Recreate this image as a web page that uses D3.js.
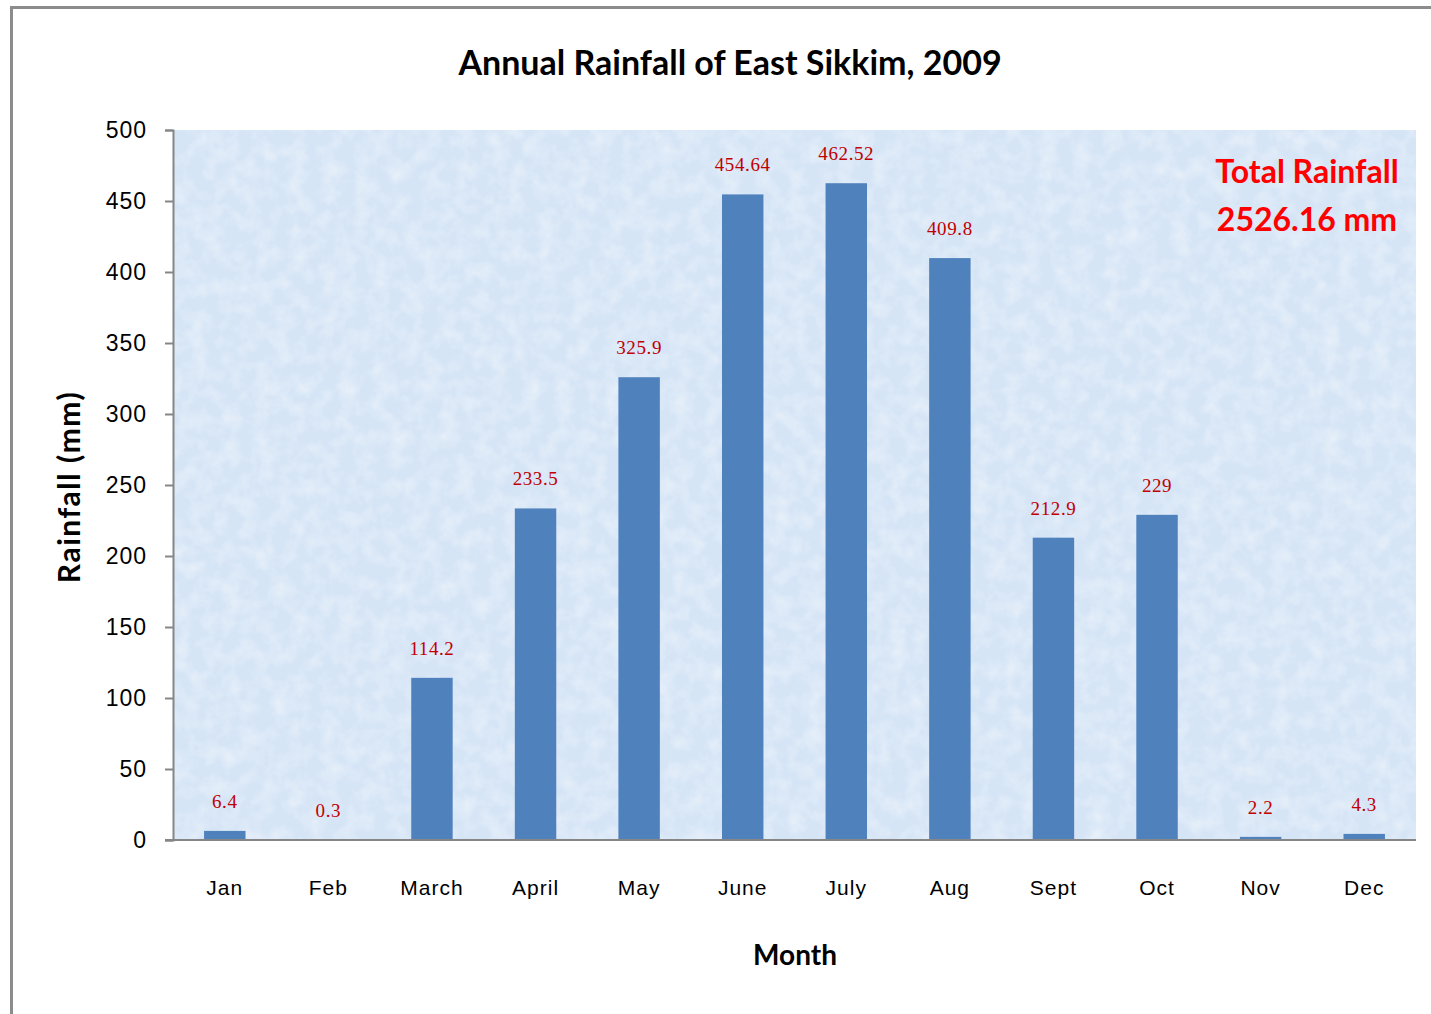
<!DOCTYPE html>
<html>
<head>
<meta charset="utf-8">
<script src="https://cdn.jsdelivr.net/npm/d3@7"></script>
<style>
  body { margin: 0; background: #fff; }
  svg { display: block; }
</style>
</head>
<body>
<div id="chart"></div>
<script>
// Monthly rainfall, East Sikkim 2009 (mm)
const months = ['Jan', 'Feb', 'March', 'April', 'May', 'June', 'July', 'Aug', 'Sept', 'Oct', 'Nov', 'Dec'];
const rainfall = [6.4, 0.3, 114.2, 233.5, 325.9, 454.64, 462.52, 409.8, 212.9, 229, 2.2, 4.3];
const rainLabels = ['6.4', '0.3', '114.2', '233.5', '325.9', '454.64', '462.52', '409.8', '212.9', '229', '2.2', '4.3'];
const yTicks = [0, 50, 100, 150, 200, 250, 300, 350, 400, 450, 500];
const totalLines = ['Total Rainfall', '2526.16 mm'];

const W = 1431, H = 1014;
const margin = { top: 130, right: 15, bottom: 174, left: 173 };
const width = W - margin.left - margin.right;
const height = H - margin.top - margin.bottom;

const svg = d3.select('#chart').append('svg')
    .attr('width', W)
    .attr('height', H);

// texture for the plot background
const defs = svg.append('defs');
const filt = defs.append('filter').attr('id', 'paper')
    .attr('x', 0).attr('y', 0).attr('width', '100%').attr('height', '100%');
filt.append('feTurbulence')
    .attr('type', 'fractalNoise')
    .attr('baseFrequency', 0.06)
    .attr('numOctaves', 3)
    .attr('seed', 4);
filt.append('feColorMatrix')
    .attr('type', 'matrix')
    .attr('values', '0 0 0 0 1  0 0 0 0 1  0 0 0 0 1  0 0 0 1.4 -0.55');

// outer frame
svg.append('rect')
    .attr('x', 11.5).attr('y', 7.5)
    .attr('width', W + 20).attr('height', H + 20)
    .attr('fill', 'none')
    .attr('stroke', '#8c8c8c')
    .attr('stroke-width', 3);

const g = svg.append('g')
    .attr('transform', `translate(${margin.left},${margin.top})`);

g.append('rect')
    .attr('width', width).attr('height', height)
    .attr('fill', '#d6e5f6');
g.append('rect')
    .attr('width', width).attr('height', height)
    .attr('filter', 'url(#paper)')
    .attr('opacity', 0.55);

const x = d3.scaleBand()
    .domain(months)
    .range([0, width])
    .paddingInner(0.6)
    .paddingOuter(0.3);

const y = d3.scaleLinear()
    .domain([0, 500])
    .range([height, 0]);

// bars
g.selectAll('.bar')
    .data(rainfall)
    .enter()
    .append('rect')
    .attr('class', 'bar')
    .attr('x', (d, i) => x(months[i]))
    .attr('y', d => y(d))
    .attr('width', x.bandwidth())
    .attr('height', d => height - y(d))
    .attr('fill', '#4f81bd');

// value labels
g.selectAll('.val')
    .data(rainfall)
    .enter()
    .append('text')
    .attr('class', 'val')
    .attr('x', (d, i) => x(months[i]) + x.bandwidth() / 2)
    .attr('y', d => y(d) - 23)
    .attr('text-anchor', 'middle')
    .attr('font-family', 'Liberation Serif, serif')
    .attr('font-size', 19)
    .attr('letter-spacing', 0.6)
    .attr('fill', '#c00000')
    .text((d, i) => rainLabels[i]);

// y axis
const yAxis = g.append('g')
    .call(d3.axisLeft(y).tickValues(yTicks).tickSize(8).tickPadding(18));
yAxis.select('.domain').attr('stroke', '#868686').attr('stroke-width', 2);
yAxis.selectAll('.tick line').attr('stroke', '#868686').attr('stroke-width', 2);
yAxis.selectAll('.tick text')
    .attr('font-family', 'Liberation Sans Narrow, Liberation Sans, sans-serif')
    .attr('font-size', 23)
    .attr('letter-spacing', 1)
    .attr('fill', '#000');

// x axis
const xAxis = g.append('g')
    .attr('transform', `translate(0,${height})`)
    .call(d3.axisBottom(x).tickSize(0).tickPadding(40));
xAxis.select('.domain')
    .attr('d', `M-8,0H${width}`)
    .attr('stroke', '#868686').attr('stroke-width', 2);
xAxis.selectAll('.tick text')
    .attr('font-family', 'Liberation Sans, sans-serif')
    .attr('font-size', 21)
    .attr('letter-spacing', 1)
    .attr('fill', '#000');

// title
svg.append('text')
    .attr('x', 730).attr('y', 75)
    .attr('text-anchor', 'middle')
    .attr('font-family', 'Lato, sans-serif')
    .attr('font-weight', 'bold')
    .attr('font-size', 34)
    .attr('fill', '#000')
    .text('Annual Rainfall of East Sikkim, 2009');

// axis titles
svg.append('text')
    .attr('transform', 'translate(80,487) rotate(-90)')
    .attr('text-anchor', 'middle')
    .attr('font-family', 'Lato, sans-serif')
    .attr('font-weight', 'bold')
    .attr('font-size', 30)
    .attr('letter-spacing', 1.5)
    .attr('fill', '#000')
    .text('Rainfall (mm)');

svg.append('text')
    .attr('x', 795).attr('y', 965)
    .attr('text-anchor', 'middle')
    .attr('font-family', 'Lato, sans-serif')
    .attr('font-weight', 'bold')
    .attr('font-size', 28)
    .attr('fill', '#000')
    .text('Month');

// total annotation
svg.selectAll('.total')
    .data(totalLines)
    .enter()
    .append('text')
    .attr('class', 'total')
    .attr('x', 1307)
    .attr('y', (d, i) => 183 + i * 48)
    .attr('text-anchor', 'middle')
    .attr('font-family', 'Lato, sans-serif')
    .attr('font-weight', 'bold')
    .attr('font-size', 32)
    .attr('fill', '#ff0000')
    .text(d => d);
</script>
</body>
</html>
